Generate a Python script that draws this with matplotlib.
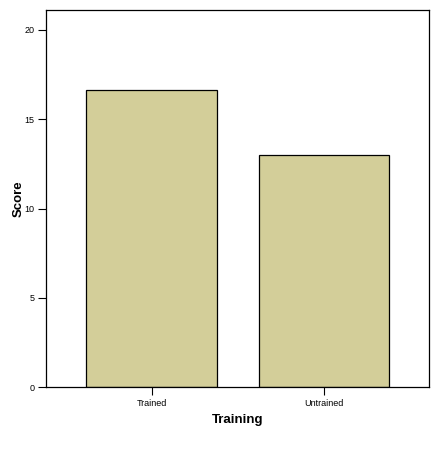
import matplotlib
matplotlib.use("Agg")
import matplotlib.pyplot as plt

categories = ["Trained", "Untrained"]
scores = [16.64, 13.0]
yticks = [0, 5, 10, 15, 20]

plt.rcParams['font.family'] = ['Liberation Sans', 'DejaVu Sans']

fig = plt.figure(figsize=(4.38, 4.51), dpi=100)
ax = fig.add_axes([46.3/438, 1-387.3/451, (429.3-46.3)/438, (387.3-10.3)/451])
x = list(range(len(categories)))
ax.bar(x, scores, width=0.755, color="#D3CE99", edgecolor="black", linewidth=0.9, zorder=2)
ax.set_xlim(-0.61, 1.61)
ax.set_ylim(0, 21.1)
ax.set_xticks(x)
ax.set_xticklabels(categories, fontsize=6.5)
ax.set_yticks(yticks)
ax.set_yticklabels([str(t) for t in yticks], fontsize=6.5)
ax.tick_params(axis='both', direction='out', length=5.5, width=0.8, pad=3)
for s in ax.spines.values():
    s.set_linewidth(0.9)
ax.set_xlabel("Training", fontsize=9.5, fontweight='bold', labelpad=4)
ax.set_ylabel("Score", fontsize=9.5, fontweight='bold', labelpad=0)
fig.savefig("out.png", dpi=100)
